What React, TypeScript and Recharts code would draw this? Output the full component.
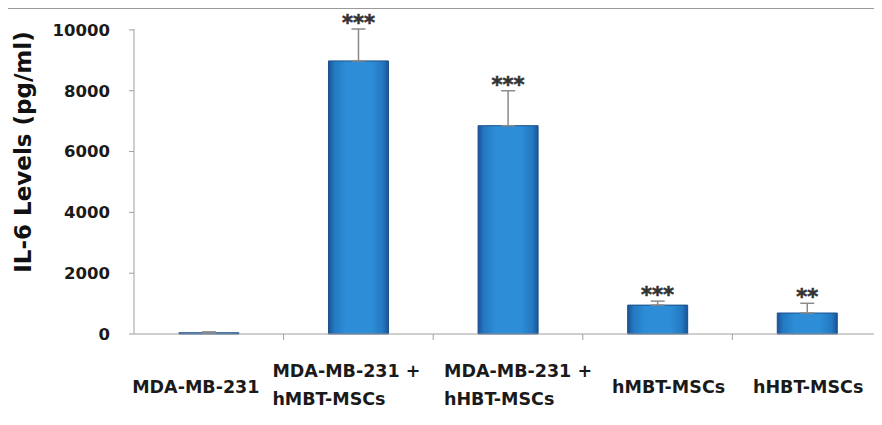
import { BarChart, Bar, XAxis, YAxis, ErrorBar, ReferenceDot } from 'recharts'

const groups = ['MDA-MB-231', 'MDA-MB-231 +\nhMBT-MSCs', 'MDA-MB-231 +\nhHBT-MSCs', 'hMBT-MSCs', 'hHBT-MSCs']
const il6 = [40, 8980, 6850, 950, 690]
const sem = [30, 1050, 1150, 130, 320]
const stars = ['', '***', '***', '***', '**']
const yTicks = [0, 2000, 4000, 6000, 8000, 10000]

// label nudges, as in the original figure (px)
const labelShift = [-13, -86, -64, 11, 1]

const data = groups.map((g, i) => ({
  group: g,
  il6: il6[i],
  err: [0, sem[i]],
  top: il6[i] + sem[i],
  stars: stars[i],
}))

const font = '"DejaVu Sans", sans-serif'

function GroupTick({ x, y, payload, index, width, visibleTicksCount }: any) {
  const lines: string[] = String(payload.value).split('\n')
  const multi = lines.length > 1
  const tx = x + labelShift[index]
  const startY = multi ? y + 43 : y + 59
  const band = width / visibleTicksCount
  const last = index === visibleTicksCount - 1
  return (
    <g>
      {!last && <line x1={x + band / 2} x2={x + band / 2} y1={y} y2={y + 6} stroke="#a0a0a0" />}
      <text x={tx} y={startY} textAnchor={multi ? 'start' : 'middle'} fontFamily={font} fontWeight="bold"
        fontSize={17.5} fill="#1a1a1a">
        {lines.map((l, i) => (
          <tspan key={i} x={tx} dy={i === 0 ? 0 : 28}>{l}</tspan>
        ))}
      </text>
    </g>
  )
}

function StarLabel({ viewBox, value }: any) {
  const { x, y } = viewBox
  return (
    <text x={x} y={y + 1} textAnchor="middle" fontFamily={font} fontWeight="bold" fontSize={21} fill="#333"
      stroke="#333" strokeWidth={0.6}>
      {value}
    </text>
  )
}

function YTitle() {
  const cx = 23
  const cy = 152
  return (
    <text x={cx} y={cy} transform={`rotate(-90 ${cx} ${cy})`} textAnchor="middle" dominantBaseline="central"
      fontFamily={font} fontWeight="bold" fontSize={23} fill="#111">
      IL-6 Levels (pg/ml)
    </text>
  )
}

export default function App() {
  return (
    <div style={{ position: 'relative', margin: -8, width: 882, height: 425, background: '#fff', overflow: 'hidden' }}>
      <BarChart width={882} height={425} data={data} margin={{ top: 29, right: 0, bottom: 30, left: 0 }} barCategoryGap="30%">
        <defs>
          <linearGradient id="barFill" x1="0" y1="0" x2="1" y2="0">
            <stop offset="0%" stopColor="#1b5497" />
            <stop offset="10%" stopColor="#2479c2" />
            <stop offset="30%" stopColor="#2d8ed7" />
            <stop offset="70%" stopColor="#2d8ed7" />
            <stop offset="90%" stopColor="#2479c2" />
            <stop offset="100%" stopColor="#1b5497" />
          </linearGradient>
        </defs>
        <XAxis
          dataKey="group"
          stroke="#a0a0a0"
          tickLine={false}
          tickSize={0}
          tickMargin={0}
          interval={0}
          height={61}
          tick={<GroupTick />}
        />
        <YAxis
          width={134}
          domain={[0, 10000]}
          ticks={yTicks}
          stroke="#a0a0a0"
          tickSize={5}
          tick={{ fill: '#1a1a1a', fontSize: 16.5, fontWeight: 'bold', fontFamily: font }}
          tickMargin={19}
          label={<YTitle />}
        />
        <Bar dataKey="il6" fill="url(#barFill)" stroke="#1a4f8c" strokeWidth={1} isAnimationActive={false}>
          <ErrorBar dataKey="err" width={7} stroke="#8a8a8a" strokeWidth={1.5} direction="y" />
        </Bar>
        {data.filter((d) => d.stars).map((d) => (
          <ReferenceDot key={d.group} x={d.group} y={d.top} r={0} fill="none" stroke="none" ifOverflow="visible"
            label={<StarLabel value={d.stars} />} />
        ))}
      </BarChart>
      <div style={{ position: 'absolute', left: 0, top: 6, width: 882, height: 2, background: '#000', zIndex: 2 }} />
      <div style={{ position: 'absolute', left: 0, top: 8, width: 882, height: 1, background: '#999', zIndex: 2 }} />
    </div>
  )
}
